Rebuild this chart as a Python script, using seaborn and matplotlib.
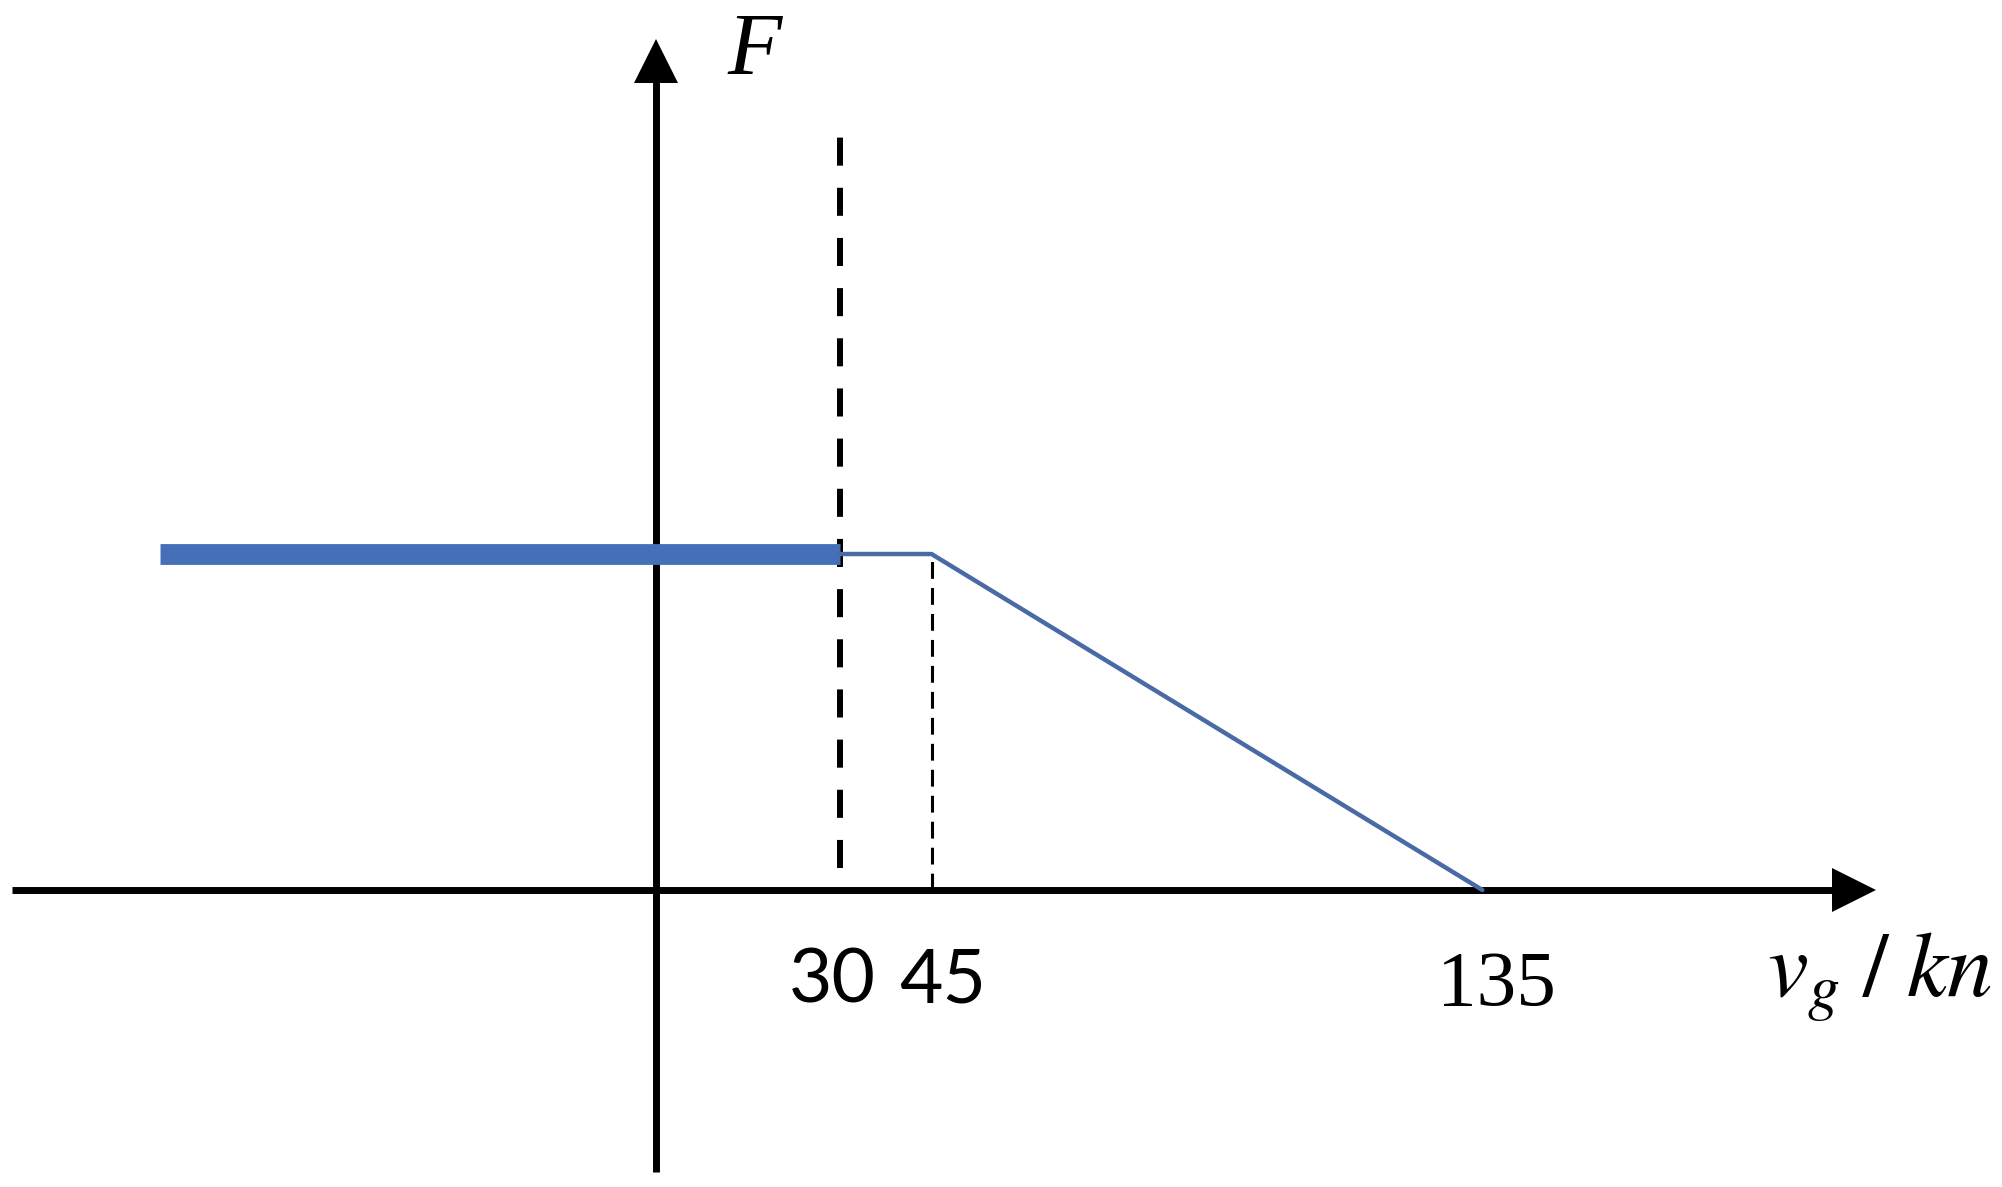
import matplotlib
matplotlib.use("Agg")
import matplotlib.pyplot as plt
import seaborn as sns
import pandas as pd

# Data: F vs ground speed v_g (kn)
v_low = [-81, 30]        # thick segment (constant F)
F_low = [1, 1]
v_high = [30, 45, 135]   # thin segment: flat then linear decrease
F_high = [1, 1, 0]
tick_vals = [30, 45, 135]
tick_labels = ["30", "45", "135"]

sns.set_theme(style="white")
plt.rcParams["mathtext.fontset"] = "stix"

fig = plt.figure(figsize=(20.02, 11.87), dpi=100)
ax = fig.add_axes([0, 0, 1, 1])
ax.set_xlim(-107.2, 219.9)
ax.set_ylim(-0.884, 2.649)
ax.axis("off")

blue = "#4570b8"
thin_blue = "#4a6aa5"

# axes with triangular arrow heads
ax.plot([-105.2, 193], [0, 0], color="black", lw=5, solid_capstyle="butt")
ax.plot([195.8], [0], marker=">", ms=32, color="black", mew=0)
ax.plot([0, 0], [-0.84, 2.44], color="black", lw=5, solid_capstyle="butt")
ax.plot([0], [2.466], marker="^", ms=32, color="black", mew=0)

# reference lines
ax.plot([30, 30], [0.065, 2.283], color="black", lw=4.3, dashes=(4.7, 3.7))
ax.plot([45, 45], [0, 1], color="black", lw=2.2, dashes=(5.5, 3))

# F curve
sns.lineplot(data=pd.DataFrame({"v": v_low, "F": F_low}), x="v", y="F",
             ax=ax, color=blue, lw=15, solid_capstyle="butt", zorder=3)
sns.lineplot(data=pd.DataFrame({"v": v_high, "F": F_high}), x="v", y="F",
             ax=ax, color=thin_blue, lw=3.2, zorder=3)

# tick labels
ax.text(28.8, -0.336, tick_labels[0], ha="center", va="baseline",
        fontsize=54, family="Lato", color="black")
ax.text(46.8, -0.336, tick_labels[1], ha="center", va="baseline",
        fontsize=54, family="Lato", color="black")
ax.text(137.3, -0.342, tick_labels[2], ha="center", va="baseline",
        fontsize=57, family="Liberation Serif", color="black")

# axis labels
ax.text(11.7, 2.432, "F", ha="left", va="baseline", fontsize=64,
        family="Liberation Serif", style="italic", color="black")
ax.text(181.5, -0.3155, r"$v_{g}\;/\;kn$", ha="left", va="baseline",
        fontsize=66, color="black")

fig.savefig("out.png", dpi=100, facecolor="white")
